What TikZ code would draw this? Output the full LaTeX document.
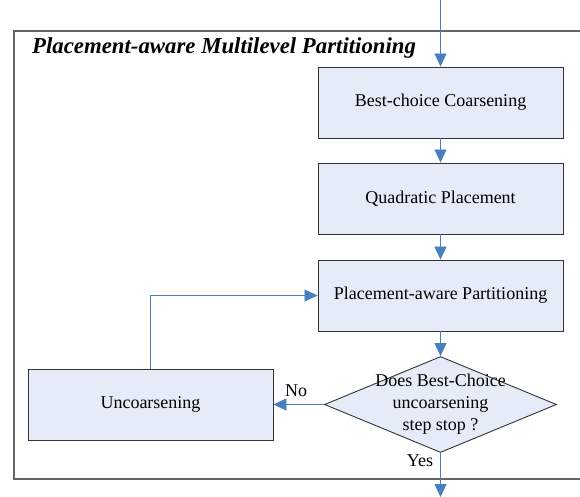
\documentclass[tikz,border=0pt]{standalone}
\usepackage{fontspec}
\setmainfont{Liberation Serif}
\usetikzlibrary{arrows.meta,shapes.geometric}
\definecolor{flowblue}{RGB}{74,126,193}
\definecolor{boxfill}{RGB}{230,236,247}
\definecolor{framegray}{RGB}{100,100,100}
\tikzset{
  stepbox/.style={draw=black!80, line width=0.9pt, fill=boxfill,
    minimum width=245pt, minimum height=71pt, inner sep=0pt,
    font=\fontsize{18}{22}\selectfont},
  decision/.style={draw=black!80, line width=0.9pt, fill=boxfill,
    diamond, minimum width=232pt, minimum height=96pt, inner sep=0pt},
  flow/.style={draw=flowblue, line width=0.8pt,
    -{Triangle[width=12pt,length=13pt]}},
  tag/.style={font=\fontsize{18}{22}\selectfont, inner sep=0pt}
}

\begin{document}
\begin{tikzpicture}[x=1pt, y=-1pt]
  \useasboundingbox (0,0) rectangle (580,497);
  \clip (0,0) rectangle (580,497);
  % --- outer frame and its title ---
  \draw[framegray, line width=1.3pt] (14,31) rectangle (590,479);
  \node[anchor=west, inner sep=0pt, font=\fontsize{22.8}{26}\selectfont\bfseries\itshape]
    (title) at (32,48) {Placement-aware Multilevel Partitioning};
  % --- main column ---
  \node[stepbox] (coarsen) at (440.5,102.5) {Best-choice Coarsening};
  \node[stepbox] (qplace)  at (440.5,198.5) {Quadratic Placement};
  \node[stepbox] (ppart)   at (440.5,295.5) {Placement-aware Partitioning};
  \node[decision] (stop)   at (440.5,404.5) {};
  \node[align=center, inner sep=0pt, font=\fontsize{18}{22}\selectfont]
    (stoptext) at (440.5,404) {Does Best-Choice\\uncoarsening\\step stop ?};
  \node[stepbox] (uncoarsen) at (150.5,404.5) {Uncoarsening};
  % --- loose ends of the flow ---
  \coordinate (entry) at (440.5,0);
  \coordinate (exit) at (440.5,497);
  \coordinate (bend) at (150.5,295.5);
  % --- connectors ---
  \draw[flow] (entry) -- (coarsen);
  \draw[flow] (coarsen) -- (qplace);
  \draw[flow] (qplace) -- (ppart);
  \draw[flow] (ppart) -- (stop);
  \draw[flow] (stop) -- (uncoarsen);
  \draw[flow] (uncoarsen) -- (bend) -- (ppart);
  \draw[flow] (stop) -- (exit);
  \node[tag] (no)  at (296,391) {No};
  \node[tag] (yes) at (420,461) {Yes};
\end{tikzpicture}
\end{document}
